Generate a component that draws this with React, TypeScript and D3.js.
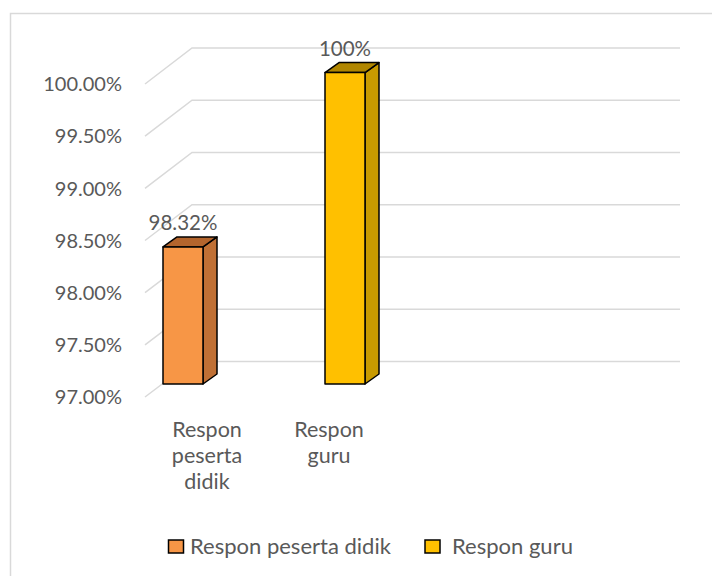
import React from "react";
import * as d3 from "d3";

const categories = ["Respon peserta didik", "Respon guru"];
const categoryLines = [["Respon", "peserta", "didik"], ["Respon", "guru"]];
const values = [98.32, 100];
const valueLabels = ["98.32%", "100%"];
const yTicks = [97, 97.5, 98, 98.5, 99, 99.5, 100];
const colors = [
  { front: "#F79646", side: "#C07035", top: "#B4652D" },
  { front: "#FFC000", side: "#C89A00", top: "#B08600" },
];

const W = 712;
const H = 576;
const FONT = "Lato, 'Open Sans', sans-serif";
const TXT = "#595959";

export default function App() {
  const yBar = d3.scaleLinear().domain([97, 100]).range([384, 72.6]);
  const yBack = d3.scaleLinear().domain([97, 100]).range([361.5, 48]);
  const yFront = d3.scaleLinear().domain([97, 100]).range([397, 84]);
  const x = d3.scaleBand<string>().domain(categories).range([102, 426]);
  const xLab = d3.scaleBand<string>().domain(categories).range([146, 390]);
  const frontX = 145;
  const backX = 192;
  const wallRight = 680;
  const barW = 40;
  const dx = 14;
  const dy = -10;

  return (
    <div style={{ position: "fixed", left: 0, top: 0 }}>
      <svg width={W} height={H} style={{ display: "block", background: "#fff" }}>
        <rect x={10.5} y={13.5} width={800} height={700} fill="#fff" stroke="#D9D9D9" strokeWidth={1.5} />
        {yTicks.map((t) => (
          <g key={t}>
            <polyline
              points={`${frontX},${yFront(t)} ${backX},${yBack(t)} ${wallRight},${yBack(t)}`}
              fill="none"
              stroke="#D9D9D9"
              strokeWidth={1.5}
            />
            <text
              x={122}
              y={yFront(t)}
              dy="0.36em"
              textAnchor="end"
              fontFamily={FONT}
              fontSize={20}
              fill={TXT}
            >
              {d3.format(".2f")(t) + "%"}
            </text>
          </g>
        ))}
        {categories.map((c, i) => {
          const cx = (x(c) as number) + x.bandwidth() / 2;
          const x0 = cx - barW / 2;
          const x1 = cx + barW / 2;
          const yt = yBar(values[i]);
          const yb = yBar(97);
          const col = colors[i];
          return (
            <g key={c} stroke="#000" strokeWidth={1.5} strokeLinejoin="round">
              <polygon
                points={`${x1},${yt} ${x1 + dx},${yt + dy} ${x1 + dx},${yb + dy} ${x1},${yb}`}
                fill={col.side}
              />
              <polygon
                points={`${x0},${yt} ${x0 + dx},${yt + dy} ${x1 + dx},${yt + dy} ${x1},${yt}`}
                fill={col.top}
              />
              <rect x={x0} y={yt} width={barW} height={yb - yt} fill={col.front} />
              <text
                x={cx}
                y={yt + dy - 7}
                textAnchor="middle"
                fontFamily={FONT}
                fontSize={20.5}
                fill={TXT}
                stroke="none"
              >
                {valueLabels[i]}
              </text>
            </g>
          );
        })}
        {categories.map((c, i) => {
          const cx = (xLab(c) as number) + xLab.bandwidth() / 2;
          return (
            <text key={c} textAnchor="middle" fontFamily={FONT} fontSize={21.5} fill={TXT}>
              {categoryLines[i].map((l, j) => (
                <tspan key={j} x={cx} y={437 + j * 26}>
                  {l}
                </tspan>
              ))}
            </text>
          );
        })}
        {categories.map((c, i) => {
          const lx = [168.5, 425][i];
          return (
            <g key={c}>
              <rect x={lx} y={540} width={15} height={13} fill={colors[i].front} stroke="#000" strokeWidth={1.5} />
              <text x={lx + [21.5, 27][i]} y={554} fontFamily={FONT} fontSize={22} fill={TXT}>
                {c}
              </text>
            </g>
          );
        })}
      </svg>
    </div>
  );
}
